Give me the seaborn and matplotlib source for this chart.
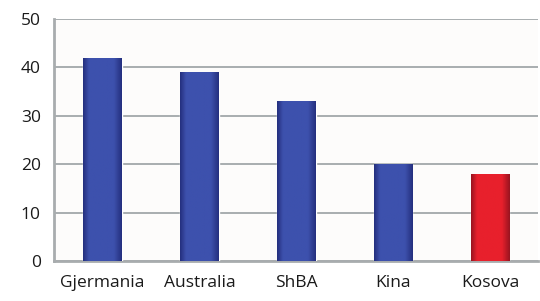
import matplotlib
matplotlib.use("Agg")
import matplotlib.pyplot as plt
import numpy as np
import pandas as pd
import seaborn as sns
from matplotlib.colors import LinearSegmentedColormap

# Data #

countries = ["Gjermania", "Australia", "ShBA", "Kina", "Kosova"]
values = [42, 39, 33, 20, 18]
group = ["other", "other", "other", "other", "kosovo"]

bar_colors = {"other": "#3d51ad", "kosovo": "#e8202c"}
dark_colors = {"other": "#25307f", "kosovo": "#9a1420"}

df = pd.DataFrame({"country": countries, "value": values, "group": group})

sns.set_style("white")
plt.rcParams['font.family'] = ['Open Sans', 'DejaVu Sans']

fig = plt.figure(figsize=(5.4, 3.01), dpi=100)
ax = fig.add_axes([0.1, 0.133, 0.897, 0.804])
ax.set_facecolor("#fdfcfb")

ax = sns.barplot(data=df, x="country", y="value", hue="group", palette=bar_colors,
                 width=0.4, dodge=False, legend=False, ax=ax, zorder=3)

# soft horizontal shading on each bar
for patch, g in zip(ax.patches, group):
    x0, y0 = patch.get_x(), patch.get_y()
    w, h = patch.get_width(), patch.get_height()
    cmap = LinearSegmentedColormap.from_list(
        "shade", [(0, dark_colors[g]), (0.15, bar_colors[g]), (0.8, bar_colors[g]), (1, dark_colors[g])])
    grad = np.linspace(0, 1, 64).reshape(1, -1)
    im = ax.imshow(grad, extent=[x0, x0 + w, y0, y0 + h], aspect="auto",
                   cmap=cmap, zorder=3.5, interpolation="bilinear")
    im.set_clip_path(patch)

ax.set_xlim(-0.5, 4.5)
ax.set_ylim(0, 50)
ax.set_yticks([0, 10, 20, 30, 40, 50])
ax.yaxis.grid(True, color="#9aa0a3", linewidth=1.2, zorder=1)
ax.set_axisbelow(True)

ax.set_xticks(np.arange(-0.5, 5, 1), minor=True)
ax.tick_params(axis="x", which="major", length=0, pad=10, labelsize=12.5, colors="#1a1a1a")
ax.tick_params(axis="x", which="minor", length=5, width=1.5, color="#a8acae")
ax.tick_params(axis="y", length=6, width=1.5, labelsize=12.5, colors="#1a1a1a")
ax.tick_params(axis="y", which="major", color="#a8acae")

ax.set_xlabel("")
ax.set_ylabel("")

for side in ["top", "right"]:
    ax.spines[side].set_visible(False)
for side in ["left", "bottom"]:
    ax.spines[side].set_color("#a8acae")
    ax.spines[side].set_linewidth(2)

plt.savefig("out.png", dpi=100)
